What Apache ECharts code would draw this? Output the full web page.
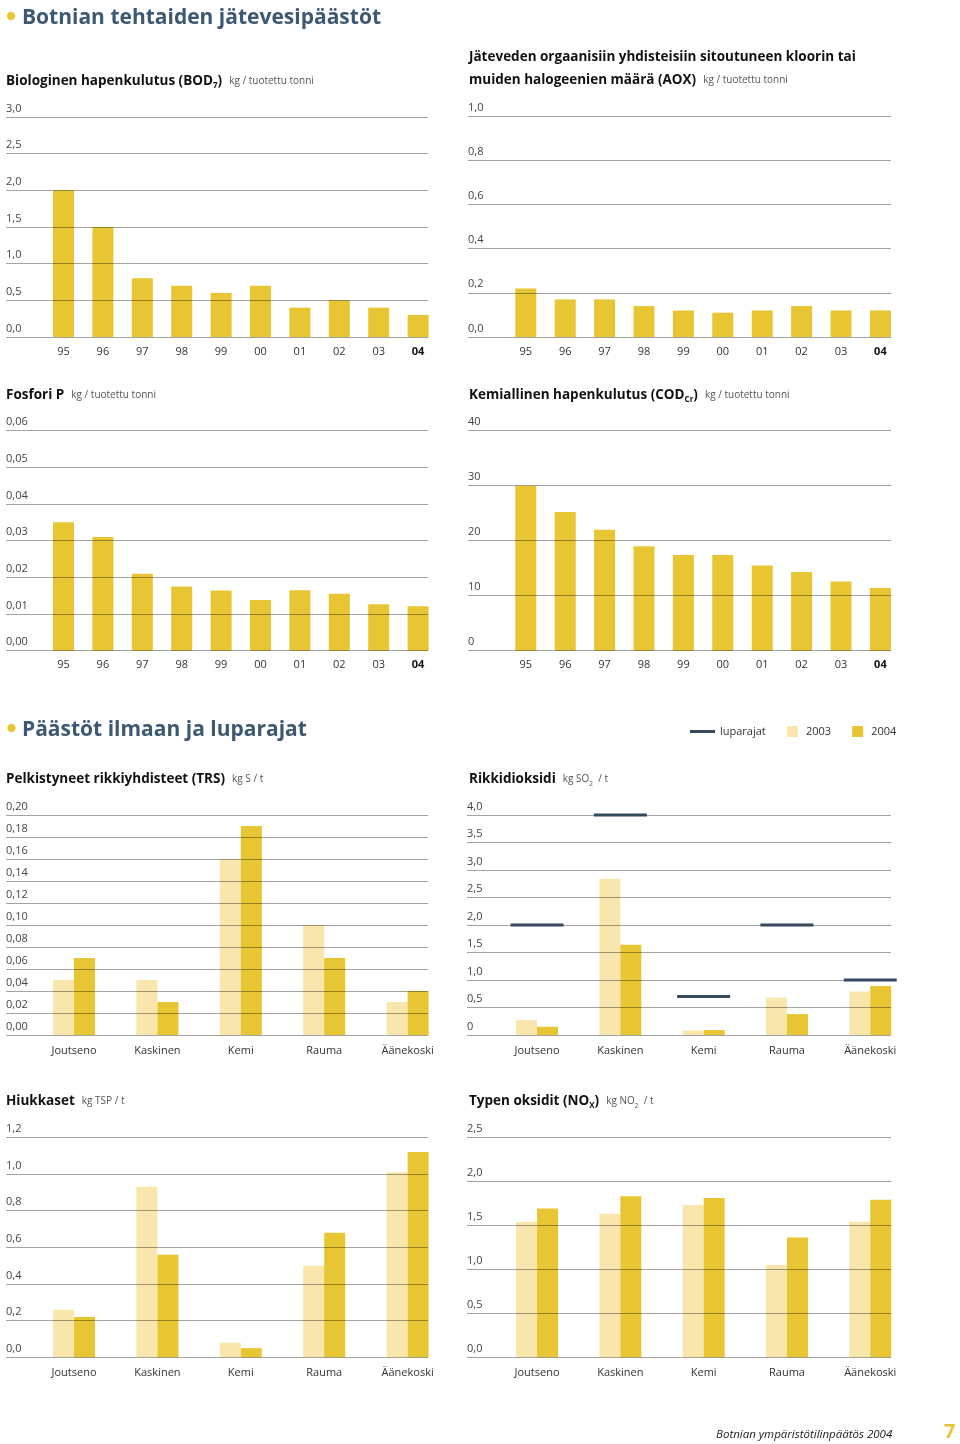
<!DOCTYPE html>
<html>
<head>
<meta charset="utf-8">
<script src="https://cdn.jsdelivr.net/npm/echarts@6/dist/echarts.min.js"></script>
<style>
html,body{margin:0;padding:0;background:#fff;}
#c{width:960px;height:1444px;}
</style>
</head>
<body>
<div id="c"></div>
<script>
// ---------- data ----------
const years = ['95','96','97','98','99','00','01','02','03','04'];
const mills = ['Joutseno','Kaskinen','Kemi','Rauma','Äänekoski'];

const bod = [2.0, 1.5, 0.8, 0.7, 0.6, 0.7, 0.4, 0.5, 0.4, 0.3];
const aox = [0.22, 0.17, 0.17, 0.14, 0.12, 0.11, 0.12, 0.14, 0.12, 0.12];
const phosphorus = [0.035, 0.031, 0.021, 0.0175, 0.0164, 0.0138, 0.0165, 0.0155, 0.0127, 0.0121];
const cod = [30.0, 25.2, 22.0, 19.0, 17.4, 17.4, 15.5, 14.3, 12.6, 11.4];

const trs2003 = [0.05, 0.05, 0.16, 0.10, 0.03];
const trs2004 = [0.07, 0.03, 0.19, 0.07, 0.04];
const so2_2003 = [0.27, 2.84, 0.08, 0.68, 0.79];
const so2_2004 = [0.15, 1.64, 0.09, 0.38, 0.89];
const so2Limits = [2.0, 4.0, 0.7, 2.0, 1.0];
const tsp2003 = [0.26, 0.93, 0.08, 0.50, 1.01];
const tsp2004 = [0.22, 0.56, 0.05, 0.68, 1.12];
const nox2003 = [1.54, 1.63, 1.73, 1.05, 1.54];
const nox2004 = [1.69, 1.83, 1.81, 1.36, 1.79];

const bodTicks = ['0,0','0,5','1,0','1,5','2,0','2,5','3,0'];
const aoxTicks = ['0,0','0,2','0,4','0,6','0,8','1,0'];
const pTicks = ['0,00','0,01','0,02','0,03','0,04','0,05','0,06'];
const codTicks = ['0','10','20','30','40'];
const trsTicks = ['0,00','0,02','0,04','0,06','0,08','0,10','0,12','0,14','0,16','0,18','0,20'];
const so2Ticks = ['0','0,5','1,0','1,5','2,0','2,5','3,0','3,5','4,0'];
const tspTicks = ['0,0','0,2','0,4','0,6','0,8','1,0','1,2'];
const noxTicks = ['0,0','0,5','1,0','1,5','2,0','2,5'];

// ---------- styles ----------
const FONT = 'Open Sans';
const C2004 = '#e8c532';
const C2003 = '#f9e6ad';
const CLIMIT = '#36495c';
const CTITLE = '#3d5873';

const grids = [], xAxes = [], yAxes = [], series = [];

function addPanel(p) {
  const gi = grids.length;
  grids.push({left: p.lineLeft, width: p.lineWidth, top: p.top, height: p.height});
  xAxes.push({gridIndex: gi, type: 'value', min: 0, max: 1, show: false});
  yAxes.push({
    gridIndex: gi, type: 'value', min: p.min, max: p.max, interval: p.interval, z: 5,
    axisLine: {show: false}, axisTick: {show: false},
    splitLine: {show: true, lineStyle: {color: 'rgba(0,0,0,0.36)', width: 1}},
    axisLabel: {
      inside: true, align: 'left', verticalAlign: 'bottom', margin: 0, padding: [0, 0, 3, 0],
      showMinLabel: true, showMaxLabel: true,
      color: '#444', fontSize: 11, fontFamily: FONT,
      formatter: v => p.ticks[Math.round((v - p.min) / p.interval)]
    }
  });
  const gj = grids.length;
  grids.push({left: p.barLeft, width: p.barSpan, top: p.top, height: p.height});
  xAxes.push({
    gridIndex: gj, type: 'category', data: p.cats,
    axisLine: {show: false}, axisTick: {show: false},
    axisLabel: {
      margin: p.labelMargin, color: '#333', fontSize: 11, fontFamily: FONT, interval: 0,
      formatter: p.boldLast ? ((v, i) => i === p.cats.length - 1 ? '{b|' + v + '}' : v) : (v => v),
      rich: {b: {fontWeight: 'bold', color: '#111', fontSize: 11, fontFamily: FONT}}
    }
  });
  yAxes.push({gridIndex: gj, type: 'value', min: p.min, max: p.max, show: false});
  p.bars.forEach(b => {
    series.push({
      type: 'bar', name: b.name, xAxisIndex: gj, yAxisIndex: gj, data: b.data,
      barWidth: 21, barGap: '0%', itemStyle: {color: b.color}, z: 2, silent: true
    });
  });
  if (p.limits) {
    series.push({
      type: 'scatter', name: 'luparajat', xAxisIndex: gj, yAxisIndex: gj, data: p.limits,
      symbol: 'rect', symbolSize: [53, 3], itemStyle: {color: CLIMIT, opacity: 1}, z: 6, silent: true
    });
  }
}

// water charts (years)
const W_L = {lineLeft: 6, lineWidth: 422, barLeft: 43.8, barSpan: 394};
const W_R = {lineLeft: 468, lineWidth: 423, barLeft: 506.1, barSpan: 394};
addPanel(Object.assign({}, W_L, {top: 117, height: 220, min: 0, max: 3, interval: 0.5, ticks: bodTicks,
  cats: years, boldLast: true, labelMargin: 9, bars: [{name: 'BOD', data: bod, color: C2004}]}));
addPanel(Object.assign({}, W_R, {top: 116, height: 221, min: 0, max: 1, interval: 0.2, ticks: aoxTicks,
  cats: years, boldLast: true, labelMargin: 9, bars: [{name: 'AOX', data: aox, color: C2004}]}));
addPanel(Object.assign({}, W_L, {top: 430.7, height: 220, min: 0, max: 0.06, interval: 0.01, ticks: pTicks,
  cats: years, boldLast: true, labelMargin: 9, bars: [{name: 'P', data: phosphorus, color: C2004}]}));
addPanel(Object.assign({}, W_R, {top: 430.7, height: 220, min: 0, max: 40, interval: 10, ticks: codTicks,
  cats: years, boldLast: true, labelMargin: 9, bars: [{name: 'COD', data: cod, color: C2004}]}));

// air charts (mills)
const A_L = {lineLeft: 6, lineWidth: 422, barLeft: 32.3, barSpan: 417};
const A_R = {lineLeft: 467, lineWidth: 424, barLeft: 495.4, barSpan: 416.5};
addPanel(Object.assign({}, A_L, {top: 815, height: 220, min: 0, max: 0.2, interval: 0.02, ticks: trsTicks,
  cats: mills, labelMargin: 10,
  bars: [{name: '2003', data: trs2003, color: C2003}, {name: '2004', data: trs2004, color: C2004}]}));
addPanel(Object.assign({}, A_R, {top: 815, height: 220, min: 0, max: 4, interval: 0.5, ticks: so2Ticks,
  cats: mills, labelMargin: 10, limits: so2Limits,
  bars: [{name: '2003', data: so2_2003, color: C2003}, {name: '2004', data: so2_2004, color: C2004}]}));
addPanel(Object.assign({}, A_L, {top: 1137.3, height: 220, min: 0, max: 1.2, interval: 0.2, ticks: tspTicks,
  cats: mills, labelMargin: 10,
  bars: [{name: '2003', data: tsp2003, color: C2003}, {name: '2004', data: tsp2004, color: C2004}]}));
addPanel(Object.assign({}, A_R, {top: 1137.3, height: 220, min: 0, max: 2.5, interval: 0.5, ticks: noxTicks,
  cats: mills, labelMargin: 10,
  bars: [{name: '2003', data: nox2003, color: C2003}, {name: '2004', data: nox2004, color: C2004}]}));

// ---------- titles ----------
const rich = {
  b: {fontFamily: FONT, fontSize: 13.5, fontWeight: 'bold', color: '#111', lineHeight: 18},
  b2: {fontFamily: FONT, fontSize: 13.5, fontWeight: 'bold', color: '#111', lineHeight: 23},
  s: {fontFamily: FONT, fontSize: 8, fontWeight: 'bold', color: '#111', lineHeight: 10, verticalAlign: 'bottom'},
  u: {fontFamily: FONT, fontSize: 10, fontWeight: 'normal', color: '#555', lineHeight: 18, padding: [0, 0, 0, 7]},
  us: {fontFamily: FONT, fontSize: 6.5, fontWeight: 'normal', color: '#555', lineHeight: 9, verticalAlign: 'bottom'},
  u2: {fontFamily: FONT, fontSize: 10, fontWeight: 'normal', color: '#555', lineHeight: 18},
  h: {fontFamily: FONT, fontSize: 21, fontWeight: 'bold', color: CTITLE, lineHeight: 30}
};
function t(left, top, text) {
  return {left: left, top: top, padding: 0, text: text, textStyle: {fontWeight: 'normal', rich: rich}};
}
const titles = [
  t(22, 3, '{h|Botnian tehtaiden jätevesipäästöt}'),
  t(6, 72, '{b|Biologinen hapenkulutus (BOD}{s|7}{b|)}{u|kg / tuotettu tonni}'),
  t(469, 46, '{b2|Jäteveden orgaanisiin yhdisteisiin sitoutuneen kloorin tai}\n{b2|muiden halogeenien määrä (AOX)}{u|kg / tuotettu tonni}'),
  t(6, 386, '{b|Fosfori P}{u|kg / tuotettu tonni}'),
  t(469, 386, '{b|Kemiallinen hapenkulutus (COD}{s|Cr}{b|)}{u|kg / tuotettu tonni}'),
  t(22, 715, '{h|Päästöt ilmaan ja luparajat}'),
  t(6, 770, '{b|Pelkistyneet rikkiyhdisteet (TRS)}{u|kg S / t}'),
  t(469, 770, '{b|Rikkidioksidi}{u|kg SO}{us|2}{u2|  / t}'),
  t(6, 1092, '{b|Hiukkaset}{u|kg TSP / t}'),
  t(469, 1092, '{b|Typen oksidit (NO}{s|X}{b|)}{u|kg NO}{us|2}{u2|  / t}')
];

const option = {
  backgroundColor: '#fff',
  animation: false,
  textStyle: {fontFamily: FONT},
  title: titles,
  legend: [
    {data: [{name: 'luparajat', icon: 'rect'}], left: 685, top: 721, itemWidth: 25, itemHeight: 3,
     selectedMode: false, textStyle: {fontSize: 11, color: '#333', fontFamily: FONT, padding: [0, 0, 0, 0]}},
    {data: [{name: '2003', icon: 'rect'}, {name: '2004', icon: 'rect'}], left: 782, top: 721,
     itemWidth: 11, itemHeight: 11, itemGap: 21, selectedMode: false,
     textStyle: {fontSize: 11, color: '#333', fontFamily: FONT, padding: [0, 0, 0, 3]}}
  ],
  grid: grids,
  xAxis: xAxes,
  yAxis: yAxes,
  series: series,
  graphic: [
    {type: 'circle', shape: {cx: 11, cy: 16, r: 4}, style: {fill: C2004}},
    {type: 'circle', shape: {cx: 11.5, cy: 728, r: 4}, style: {fill: C2004}},
    {type: 'text', left: 716, top: 1429, style: {text: 'Botnian ympäristötilinpäätös 2004', fontFamily: FONT, fontSize: 11.5, fontStyle: 'italic', fill: '#222'}},
    {type: 'text', left: 944, top: 1422, style: {text: '7', fontFamily: FONT, fontSize: 20, fontWeight: 'bold', fill: C2004}}
  ]
};

const chart = echarts.init(document.getElementById('c'), null, {renderer: 'canvas'});
chart.setOption(option);
</script>
</body>
</html>
